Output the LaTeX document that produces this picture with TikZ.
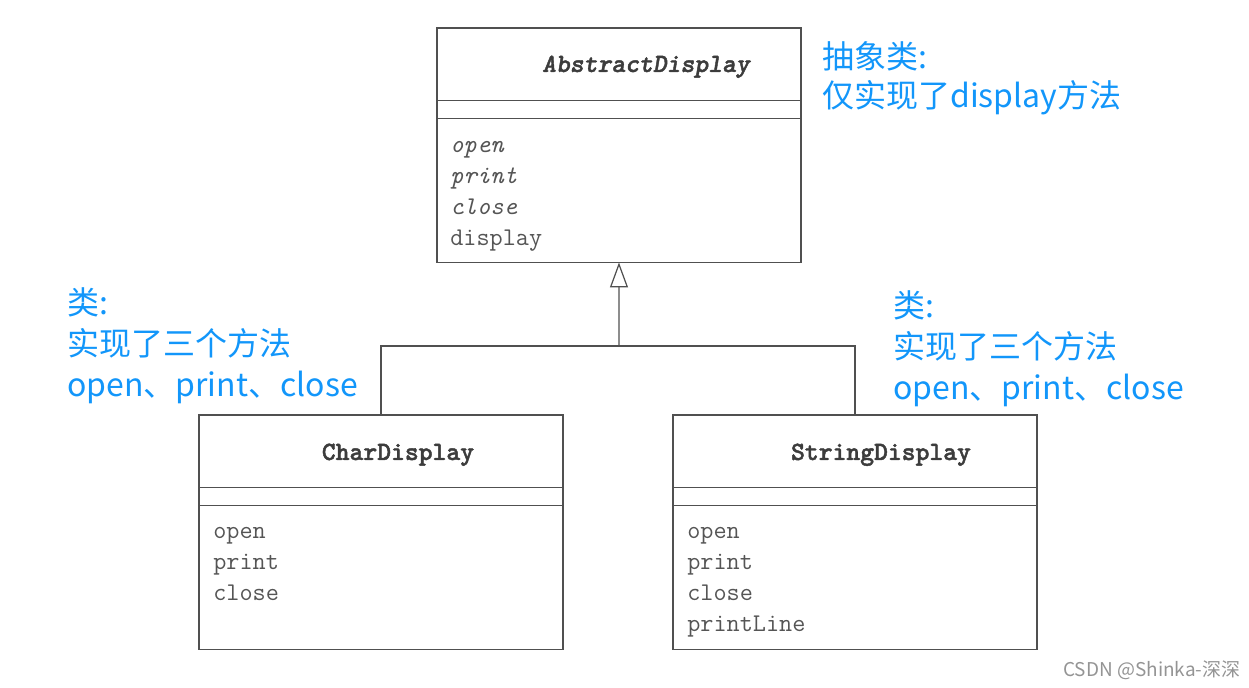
\documentclass[tikz,border=0pt]{standalone}
\usepackage{fontspec}
\usetikzlibrary{arrows.meta}
\newfontfamily\cjk{Noto Sans CJK SC}
\newfontfamily\titlefont{lmmonolt10-bold}[Extension=.otf,ItalicFont=lmmonolt10-boldoblique,FakeBold=1.6]
\definecolor{notecol}{RGB}{18,150,250}
\definecolor{boxline}{RGB}{80,80,80}
\definecolor{titlecol}{RGB}{60,60,60}
\definecolor{methcol}{RGB}{85,85,85}
\def\classtitle{\node[draw=boxline,line width=0.7pt,minimum width=7.28cm,minimum height=1.45cm,inner sep=0pt,outer sep=0pt,anchor=north west]}
\def\classfield{\node[draw=boxline,line width=0.7pt,minimum width=7.28cm,minimum height=0.36cm,inner sep=0pt,outer sep=0pt,anchor=north west]}
\def\classmeth{\node[draw=boxline,line width=0.7pt,minimum width=7.28cm,minimum height=2.88cm,inner sep=0pt,outer sep=0pt,anchor=north west]}
\def\namenode{\node[anchor=base,inner sep=0pt,text=titlecol,font=\fontsize{15}{18}\selectfont\titlefont]}
\def\methnode{\node[anchor=base west,inner sep=0pt,text=methcol,font=\fontsize{14.5}{17}\selectfont\ttfamily]}
\def\notenode{\node[anchor=base west,inner sep=0pt,align=left,text=notecol]}

\begin{document}
\begin{tikzpicture}[x=0.02cm,y=-0.02cm]
\useasboundingbox (0,0) rectangle (1249,688);
\classtitle (absT) at (437,28) {};
\classfield (absF) at (absT.south west) {};
\classmeth (absM) at (absF.south west) {};
\namenode (absN) at (646,72) {\itshape AbstractDisplay};
\methnode (absOpen) at (450,153) {\itshape open};
\methnode (absPrint) at (450,183.7) {\itshape print};
\methnode (absClose) at (450,214.4) {\itshape close};
\methnode (absDisplay) at (450,245.1) {display};
\classtitle (charT) at (199,415) {};
\classfield (charF) at (charT.south west) {};
\classmeth (charM) at (charF.south west) {};
\namenode (charN) at (398,460) {CharDisplay};
\methnode (charOpen) at (213,539) {open};
\methnode (charPrint) at (213,570) {print};
\methnode (charClose) at (213,600.5) {close};
\classtitle (strT) at (673,415) {};
\classfield (strF) at (strT.south west) {};
\classmeth (strM) at (strF.south west) {};
\namenode (strN) at (881,460) {StringDisplay};
\methnode (strOpen) at (687,539) {open};
\methnode (strPrint) at (687,570) {print};
\methnode (strClose) at (687,600.5) {close};
\methnode (strLine) at (687,631.5) {printLine};
\coordinate (junc) at (619,346);
\draw[boxline,line width=0.7pt] (charT.north) |- (junc) -| (strT.north);
\draw[boxline,line width=0.7pt,-{Triangle[open,length=0.5cm,width=0.36cm]}] (junc) -- (absM.south);
\notenode[font=\cjk\fontsize{18.2}{22.2}\selectfont] (absNote) at (822,108) {抽象类:\\仅实现了display方法};
\notenode[font=\cjk\fontsize{18.2}{23.6}\selectfont] (charNote) at (67,397) {类:\\实现了三个方法\\open、print、close};
\notenode[font=\cjk\fontsize{18.2}{23.6}\selectfont] (strNote) at (893,400) {类:\\实现了三个方法\\open、print、close};
\node[anchor=base west,inner sep=0pt,text=black!42,font=\cjk\fontsize{10.8}{13}\selectfont] (mark) at (1063,677) {CSDN @Shinka-深深};
\end{tikzpicture}
\end{document}
